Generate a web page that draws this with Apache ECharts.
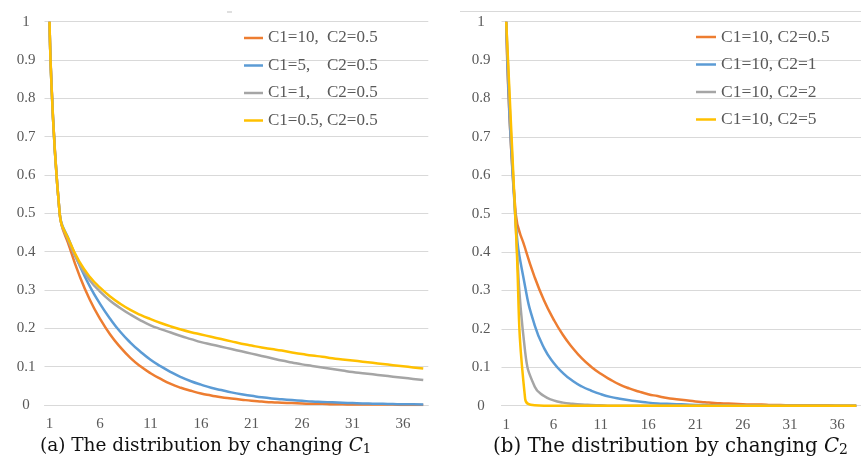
<!DOCTYPE html>
<html>
<head>
<meta charset="utf-8">
<script src="https://cdn.jsdelivr.net/npm/echarts@6/dist/echarts.min.js"></script>
<style>
  html, body { margin: 0; padding: 0; background: #fff; overflow: hidden; }
  #chart { width: 861px; height: 464px; }
</style>
</head>
<body>
<div id="chart"></div>
<script>
// Time steps on the horizontal axis
const steps = [1, 2, 3, 4, 5, 6, 7, 8, 9, 10, 11, 12, 13, 14, 15, 16, 17, 18, 19,
  20, 21, 22, 23, 24, 25, 26, 27, 28, 29, 30, 31, 32, 33, 34, 35, 36, 37, 38];

// Panel (a): varying C1 with C2 = 0.5
const c1_10_c2_05 = [1, 0.5, 0.41, 0.335, 0.274, 0.225, 0.184, 0.151, 0.123, 0.101,
  0.083, 0.068, 0.055, 0.045, 0.037, 0.030, 0.025, 0.020, 0.017, 0.014,
  0.011, 0.009, 0.007, 0.006, 0.005, 0.004, 0.003, 0.003, 0.002, 0.002,
  0.001, 0.001, 0.001, 0.001, 0.001, 0, 0, 0];
const c1_5_c2_05 = [1, 0.5, 0.426, 0.363, 0.309, 0.264, 0.225, 0.191, 0.163, 0.139,
  0.118, 0.101, 0.086, 0.073, 0.062, 0.053, 0.045, 0.039, 0.033, 0.028,
  0.024, 0.020, 0.017, 0.015, 0.013, 0.011, 0.009, 0.008, 0.007, 0.006,
  0.005, 0.004, 0.0035, 0.003, 0.0025, 0.002, 0.002, 0.0015];
const c1_1_c2_05 = [1, 0.5, 0.42, 0.365, 0.325, 0.296, 0.272, 0.253, 0.236, 0.221,
  0.208, 0.198, 0.189, 0.180, 0.172, 0.164, 0.158, 0.152, 0.146, 0.140,
  0.134, 0.128, 0.122, 0.116, 0.111, 0.106, 0.102, 0.098, 0.094, 0.090,
  0.086, 0.083, 0.080, 0.077, 0.074, 0.071, 0.068, 0.065];
const c1_05_c2_05 = [1, 0.5, 0.425, 0.372, 0.334, 0.306, 0.283, 0.264, 0.248, 0.235,
  0.224, 0.214, 0.205, 0.197, 0.190, 0.184, 0.178, 0.172, 0.166, 0.160,
  0.155, 0.150, 0.146, 0.142, 0.137, 0.133, 0.129, 0.126, 0.122, 0.119,
  0.116, 0.113, 0.110, 0.107, 0.104, 0.101, 0.098, 0.095];

// Panel (b): varying C2 with C1 = 10
const c1_10_c2_1 = [1, 0.48, 0.31, 0.21, 0.150, 0.112, 0.085, 0.065, 0.050, 0.039,
  0.030, 0.023, 0.018, 0.014, 0.011, 0.008, 0.006, 0.005, 0.004, 0.003,
  0.002, 0.0015, 0.001, 0.001, 0, 0, 0, 0, 0, 0,
  0, 0, 0, 0, 0, 0, 0, 0];
const c1_10_c2_2 = [1, 0.47, 0.14, 0.05, 0.025, 0.014, 0.008, 0.005, 0.003, 0.002,
  0.001, 0, 0, 0, 0, 0, 0, 0, 0, 0,
  0, 0, 0, 0, 0, 0, 0, 0, 0, 0,
  0, 0, 0, 0, 0, 0, 0, 0];
const c1_10_c2_5 = [1, 0.47, 0.018, 0.001, 0, 0, 0, 0, 0, 0,
  0, 0, 0, 0, 0, 0, 0, 0, 0, 0,
  0, 0, 0, 0, 0, 0, 0, 0, 0, 0,
  0, 0, 0, 0, 0, 0, 0, 0];

// Legend names
const namesA = ['C1=10, C2=0.5', 'C1=5, C2=0.5', 'C1=1, C2=0.5', 'C1=0.5, C2=0.5'];
const namesB = ['C1=10, C2=0.5', 'C1=10, C2=1', 'C1=10, C2=2', 'C1=10, C2=5'];
const palette = ['#ED7D31', '#5B9BD5', '#A5A5A5', '#FFC000'];

const tickFont = 'Liberation Serif';
const captionFont = 'DejaVu Serif';
const gridColor = '#D9D9D9';
const labelColor = '#595959';

function xAxisFor(gridIndex) {
  return {
    type: 'category', gridIndex, data: steps, boundaryGap: true,
    axisTick: { show: false },
    axisLine: { lineStyle: { color: gridColor, width: 1 } },
    axisLabel: { interval: 4, margin: 12, color: labelColor, fontFamily: tickFont, fontSize: 15 }
  };
}
function yAxisFor(gridIndex, margin) {
  return {
    type: 'value', gridIndex, min: 0, max: 1, interval: 0.1,
    axisLine: { show: false }, axisTick: { show: false },
    splitLine: { lineStyle: { color: gridColor, width: 1 } },
    axisLabel: { align: 'center', margin, color: labelColor, fontFamily: tickFont, fontSize: 15 }
  };
}
function lineSeries(name, data, color, axisIndex) {
  return {
    name, type: 'line', data, xAxisIndex: axisIndex, yAxisIndex: axisIndex,
    smooth: 0.5, symbol: 'none', animation: false,
    lineStyle: { color, width: 2.5 }, itemStyle: { color }
  };
}
function caption(prefix, sub, centerX, size) {
  return {
    text: prefix + ' {c|C}{s|' + sub + '}',
    left: centerX, top: 431, textAlign: 'center',
    textStyle: {
      color: '#111', fontFamily: captionFont, fontSize: size, fontWeight: 'normal',
      rich: {
        c: { fontFamily: captionFont, fontStyle: 'italic', fontSize: size, color: '#111' },
        s: { fontFamily: captionFont, fontSize: Math.round(size * 0.7), color: '#111', verticalAlign: 'bottom', padding: [7, 0, 0, 0] }
      }
    }
  };
}

const chart = echarts.init(document.getElementById('chart'), null, { renderer: 'canvas' });
chart.setOption({
  animation: false,
  backgroundColor: '#ffffff',
  grid: [
    { left: 44.5, top: 21.7, width: 383.8, height: 383.3 },
    { left: 501.5, top: 21.7, width: 365.6, height: 384 }
  ],
  xAxis: [xAxisFor(0), xAxisFor(1)],
  yAxis: [yAxisFor(0, 18.5), yAxisFor(1, 20.5)],
  legend: [
    {
      data: namesA, orient: 'vertical', left: 244, top: 28, padding: 0,
      icon: 'rect', itemWidth: 19, itemHeight: 2.5, itemGap: 7.5,
      textStyle: {
        color: labelColor, fontFamily: tickFont, fontSize: 17, lineHeight: 20,
        rich: {
          a: { width: 59, color: labelColor, fontFamily: tickFont, fontSize: 17, lineHeight: 20 },
          b: { color: labelColor, fontFamily: tickFont, fontSize: 17, lineHeight: 20 }
        }
      },
      formatter: function (name) {
        const parts = name.split(', ');
        return '{a|' + parts[0] + ',}{b|' + parts[1] + '}';
      }
    },
    {
      data: namesB, orient: 'vertical', left: 696, top: 27, padding: 0,
      icon: 'rect', itemWidth: 20, itemHeight: 2.5, itemGap: 7.5,
      textStyle: { color: labelColor, fontFamily: tickFont, fontSize: 17.5, lineHeight: 20 }
    }
  ],
  title: [
    caption('(a) The distribution by changing', '1', 200.5, 18.5),
    caption('(b) The distribution by changing', '2', 665.5, 19.8)
  ],
  graphic: [
    { type: 'line', shape: { x1: 460, y1: 11.5, x2: 861, y2: 11.5 }, style: { stroke: gridColor, lineWidth: 1 } },
    { type: 'line', shape: { x1: 227, y1: 12, x2: 232, y2: 12 }, style: { stroke: '#BFBFBF', lineWidth: 1 } }
  ],
  series: [
    lineSeries(namesA[0], c1_10_c2_05, palette[0], 0),
    lineSeries(namesA[1], c1_5_c2_05, palette[1], 0),
    lineSeries(namesA[2], c1_1_c2_05, palette[2], 0),
    lineSeries(namesA[3], c1_05_c2_05, palette[3], 0),
    lineSeries(namesB[0], c1_10_c2_05, palette[0], 1),
    lineSeries(namesB[1], c1_10_c2_1, palette[1], 1),
    lineSeries(namesB[2], c1_10_c2_2, palette[2], 1),
    lineSeries(namesB[3], c1_10_c2_5, palette[3], 1)
  ]
});
</script>
</body>
</html>
